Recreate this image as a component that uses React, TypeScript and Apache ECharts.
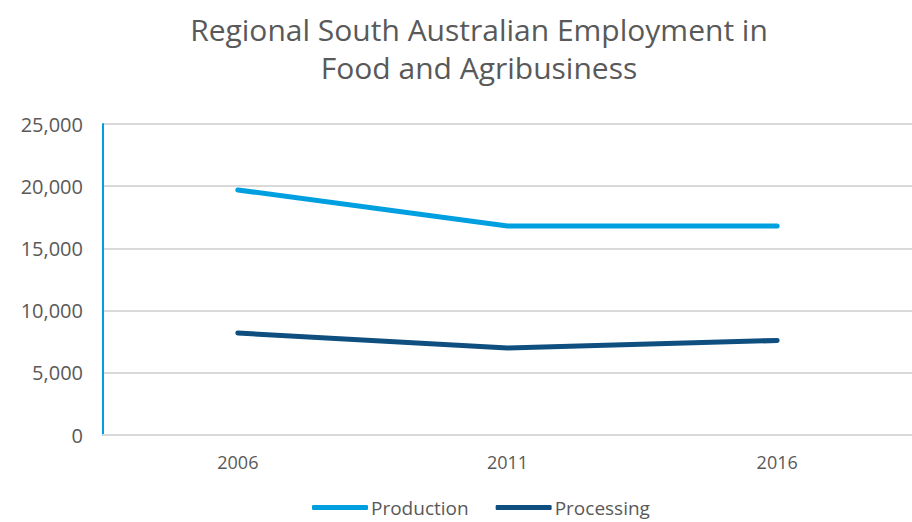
import React, { useEffect, useRef } from "react";
import * as echarts from "echarts";

const categories = ["2006", "2011", "2016"];
const production = [19700, 16800, 16800];
const processing = [8200, 7000, 7600];
const seriesNames = ["Production", "Processing"];
const titleText = "Regional South Australian Employment in\nFood and Agribusiness";

const FONT = "'Open Sans', Lato, sans-serif";
const TEXT = "#595959";

export default function App() {
  const ref = useRef<HTMLDivElement>(null);
  useEffect(() => {
    document.body.style.margin = "0";
    const chart = echarts.init(ref.current!, null, { renderer: "svg" });
    chart.setOption({
      animation: false,
      backgroundColor: "#ffffff",
      title: {
        text: titleText,
        left: 474,
        textAlign: "center",
        top: 5,
        textStyle: {
          fontFamily: FONT,
          fontSize: 30,
          fontWeight: "normal",
          color: TEXT,
          lineHeight: 38,
        },
      },
      legend: {
        top: 493,
        left: 307,
        itemWidth: 56,
        itemHeight: 5,
        itemGap: 27,
        icon: "roundRect",
        textStyle: { fontFamily: FONT, fontSize: 19, color: TEXT, padding: [0, 0, 0, -2] },
        data: seriesNames,
      },
      grid: { left: 103, right: -12, top: 124, bottom: 87, containLabel: false },
      xAxis: {
        type: "category",
        data: categories,
        boundaryGap: true,
        axisLine: { lineStyle: { color: "#d9d9d9", width: 2 } },
        axisTick: { show: false },
        axisLabel: { fontFamily: FONT, fontSize: 18, color: TEXT, margin: 18 },
      },
      yAxis: {
        type: "value",
        min: 0,
        max: 25000,
        interval: 5000,
        axisLine: { show: true, lineStyle: { color: "#00A0E0", width: 2 } },
        axisTick: { show: false },
        splitLine: { lineStyle: { color: "#d9d9d9", width: 2 } },
        axisLabel: {
          fontFamily: FONT,
          fontSize: 20,
          color: TEXT,
          margin: 20,
          formatter: (v: number) => v.toLocaleString("en-US"),
        },
      },
      series: [
        {
          name: seriesNames[0],
          type: "line",
          data: production,
          symbol: "none",
          color: "#00A0E0",
          lineStyle: { width: 5, cap: "round", join: "round" },
        },
        {
          name: seriesNames[1],
          type: "line",
          data: processing,
          symbol: "none",
          color: "#0E4F80",
          lineStyle: { width: 5, cap: "round", join: "round" },
        },
      ],
    });
    return () => chart.dispose();
  }, []);
  return <div ref={ref} style={{ width: 912, height: 522 }} />;
}
